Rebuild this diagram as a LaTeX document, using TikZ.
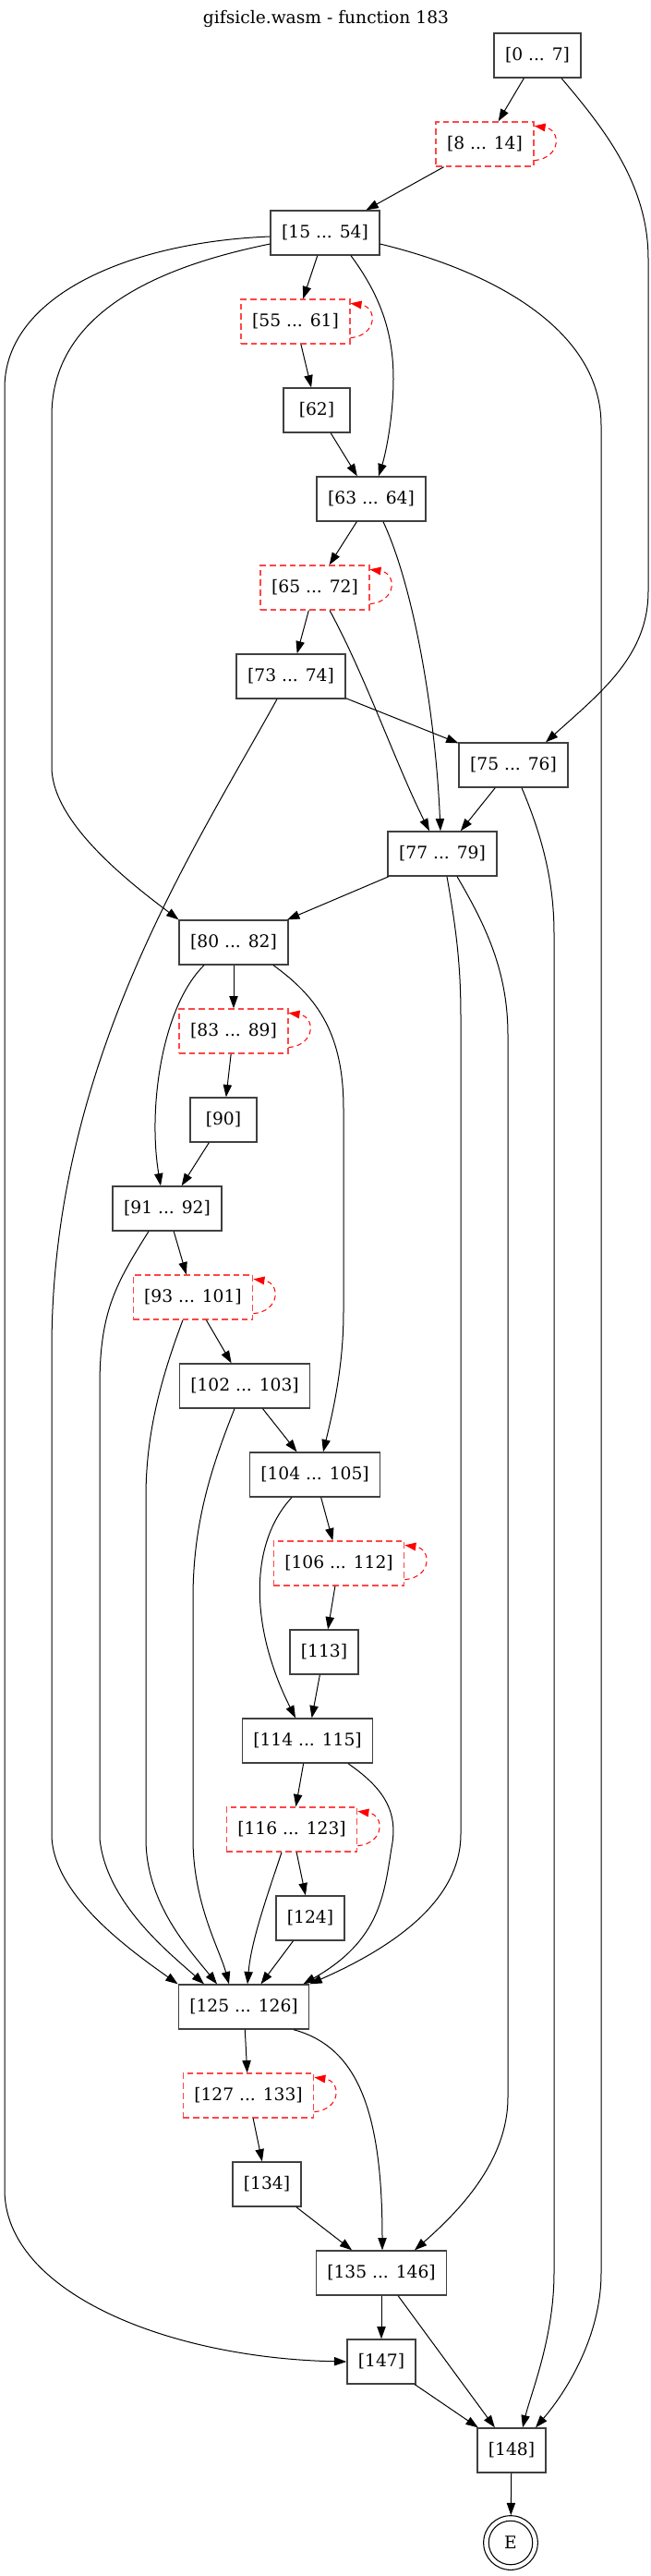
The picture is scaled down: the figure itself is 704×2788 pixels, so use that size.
\documentclass[tikz,border=0pt]{standalone}
\usepackage{fontspec}
\setmainfont{DejaVu Serif}
\usetikzlibrary{arrows.meta,calc}
\definecolor{boxgray}{RGB}{64,64,64}
\definecolor{loopred}{RGB}{255,70,70}
\newcommand\myloop[1]{\draw[selfloop] ([yshift=5.25pt]#1.south east) .. controls +(22pt,2pt) and +(22pt,-3pt) .. ([yshift=-3.75pt]#1.north east);}
\begin{document}
\begin{tikzpicture}[x=0.75pt,y=-0.75pt,
  blk/.style={rectangle,draw=boxgray,line width=1pt,minimum height=36pt,minimum width=54pt,inner xsep=9pt,inner ysep=0pt,font=\fontsize{14}{16}\selectfont},
  lblk/.style={blk,draw=loopred,dash pattern=on 5pt off 3pt},
  edge/.style={draw=black,line width=0.75pt,-{Triangle[length=10pt,width=7pt]}},
  selfloop/.style={draw=red,line width=0.75pt,dash pattern=on 4pt off 3pt,-{Triangle[length=9pt,width=6.5pt]}},
]
\useasboundingbox (0,0) rectangle (704,2788);
\node[font=\fontsize{14}{16}\selectfont] (title) at (353,20) {gifsicle.wasm - function 183};
\node[blk] (n0_7) at (582,60) {[0 ... 7]};
\node[lblk] (n8_14) at (525,156) {[8 ... 14]};
\node[blk] (n15_54) at (352,252) {[15 ... 54]};
\node[lblk] (n55_61) at (320,348) {[55 ... 61]};
\node[blk] (n62) at (343,444) {[62]};
\node[blk] (n63_64) at (402,540) {[63 ... 64]};
\node[lblk] (n65_72) at (341,636) {[65 ... 72]};
\node[blk] (n73_74) at (315,732) {[73 ... 74]};
\node[blk] (n75_76) at (556,828) {[75 ... 76]};
\node[blk] (n77_79) at (479,924) {[77 ... 79]};
\node[blk] (n80_82) at (253,1020) {[80 ... 82]};
\node[lblk] (n83_89) at (253,1116) {[83 ... 89]};
\node[blk] (n90) at (242,1212) {[90]};
\node[blk] (n91_92) at (181,1308) {[91 ... 92]};
\node[lblk] (n93_101) at (209,1404) {[93 ... 101]};
\node[blk] (n102_103) at (265,1500) {[102 ... 103]};
\node[blk] (n104_105) at (341,1596) {[104 ... 105]};
\node[lblk] (n106_112) at (367,1692) {[106 ... 112]};
\node[blk] (n113) at (351,1788) {[113]};
\node[blk] (n114_115) at (333,1884) {[114 ... 115]};
\node[lblk] (n116_123) at (316,1980) {[116 ... 123]};
\node[blk] (n124) at (336,2076) {[124]};
\node[blk] (n125_126) at (264,2172) {[125 ... 126]};
\node[lblk] (n127_133) at (269,2268) {[127 ... 133]};
\node[blk] (n134) at (289,2364) {[134]};
\node[blk] (n135_146) at (413,2460) {[135 ... 146]};
\node[blk] (n147) at (413,2556) {[147]};
\node[blk] (n148) at (554,2652) {[148]};
\node[circle,draw,line width=0.8pt,minimum size=44pt,inner sep=0pt,font=\fontsize{14}{16}\selectfont] (E) at (553,2752) {E};
\draw[line width=0.8pt] (E.center) circle[radius=17.8pt];

\draw[edge] (n0_7) -- (n8_14);
\draw[edge] ($(n0_7.south)+(26,0)$) .. controls (655,140) and (702,200) .. (702,280) -- (702,640) .. controls (702,710) and (650,750) .. ($(n75_76.north)+(35,0)$);
\draw[edge] (n8_14) -- (n15_54);
\draw[edge] (n15_54) -- (n55_61);
\draw[edge] ($(n15_54.south)+(28,0)$) .. controls (412,320) and (426,360) .. (426,410) .. controls (426,450) and (418,490) .. ($(n63_64.north)+(8,0)$);
\draw[edge] ($(n15_54.west)+(0,12)$) .. controls (190,285) and (56,330) .. (56,450) -- (56,830) .. controls (56,890) and (140,955) .. (n80_82.north west);
\draw[edge] ($(n15_54.west)+(0,4)$) .. controls (140,262) and (5,320) .. (5,420) -- (5,2370) .. controls (5,2480) and (180,2552) .. (n147.west);
\draw[edge] ($(n15_54.east)+(0,12)$) .. controls (540,295) and (651,360) .. (651,460) -- (651,2460) .. controls (651,2530) and (612,2590) .. ($(n148.north)+(26,0)$);
\draw[edge] (n55_61) -- (n62);
\draw[edge] (n62) -- (n63_64);
\draw[edge] (n63_64) -- (n65_72);
\draw[edge] ($(n63_64.south)+(13,0)$) .. controls (450,640) and (472,780) .. ($(n77_79.north)+(-2,0)$);
\draw[edge] (n65_72) -- (n73_74);
\draw[edge] ($(n65_72.south)+(16,0)$) .. controls (395,730) and (430,830) .. ($(n77_79.north)+(-14,0)$);
\draw[edge] (n73_74) -- (n75_76);
\draw[edge] ($(n73_74.south)+(-15,0)$) .. controls (210,920) and (56,1150) .. (56,1460) -- (56,1985) .. controls (56,2050) and (140,2110) .. (n125_126.north west);
\draw[edge] (n75_76) -- (n77_79);
\draw[edge] ($(n75_76.south)+(9,0)$) .. controls (585,900) and (600,950) .. (600,1010) -- (600,2460) .. controls (600,2530) and (575,2590) .. ($(n148.north)+(12,0)$);
\draw[edge] (n77_79) -- (n80_82);
\draw[edge] ($(n77_79.south)+(5,0)$) .. controls (493,1000) and (499,1040) .. (499,1100) -- (499,1985) .. controls (499,2060) and (420,2110) .. (n125_126.north east);
\draw[edge] ($(n77_79.south)+(16,0)$) .. controls (525,1000) and (550,1050) .. (550,1120) -- (550,2270) .. controls (550,2340) and (495,2395) .. ($(n135_146.north)+(36,0)$);
\draw[edge] (n80_82) -- (n83_89);
\draw[edge] ($(n80_82.south)+(-32,0)$) .. controls (175,1090) and (160,1200) .. ($(n91_92.north)+(-7,0)$);
\draw[edge] ($(n80_82.south)+(43,0)$) .. controls (345,1080) and (372,1120) .. (372,1200) -- (372,1420) .. controls (372,1480) and (360,1530) .. ($(n104_105.north)+(9,0)$);
\draw[edge] (n83_89) -- (n90);
\draw[edge] (n90) -- (n91_92);
\draw[edge] (n91_92) -- (n93_101);
\draw[edge] ($(n91_92.south)+(-20,0)$) .. controls (125,1390) and (108,1420) .. (108,1500) -- (108,1990) .. controls (115,2060) and (185,2115) .. ($(n125_126.north)+(-43,0)$);
\draw[edge] (n93_101) -- (n102_103);
\draw[edge] ($(n93_101.south)+(-11,0)$) .. controls (175,1490) and (158,1550) .. (158,1620) -- (158,1990) .. controls (158,2060) and (205,2110) .. ($(n125_126.north)+(-29,0)$);
\draw[edge] (n102_103) -- (n104_105);
\draw[edge] ($(n102_103.south)+(-11,0)$) .. controls (228,1590) and (209,1650) .. (209,1730) -- (209,1990) .. controls (209,2060) and (238,2110) .. ($(n125_126.north)+(-16,0)$);
\draw[edge] (n104_105) -- (n106_112);
\draw[edge] ($(n104_105.south)+(-25,0)$) .. controls (270,1670) and (270,1760) .. ($(n114_115.north)+(-13,0)$);
\draw[edge] (n106_112) -- (n113);
\draw[edge] (n113) -- (n114_115);
\draw[edge] (n114_115) -- (n116_123);
\draw[edge] ($(n114_115.south)+(44,0)$) .. controls (415,1935) and (432,1960) .. (424,2000) .. controls (416,2050) and (412,2100) .. ($(n125_126.north east)+(-7,0)$);
\draw[edge] (n116_123) -- (n124);
\draw[edge] ($(n116_123.south)+(-11,0)$) .. controls (290,2050) and (272,2100) .. ($(n125_126.north)+(4,0)$);
\draw[edge] (n124) -- (n125_126);
\draw[edge] (n125_126) -- (n127_133);
\draw[edge] ($(n125_126.south)+(54,0)$) .. controls (385,2215) and (414,2280) .. ($(n135_146.north)+(1,0)$);
\draw[edge] (n127_133) -- (n134);
\draw[edge] (n134) -- (n135_146);
\draw[edge] (n135_146) -- (n147);
\draw[edge] (n135_146) -- (n148);
\draw[edge] (n147) -- (n148);
\draw[edge] (n148) -- (E);

\myloop{n8_14}
\myloop{n55_61}
\myloop{n65_72}
\myloop{n83_89}
\myloop{n93_101}
\myloop{n106_112}
\myloop{n116_123}
\myloop{n127_133}
\end{tikzpicture}
\end{document}
